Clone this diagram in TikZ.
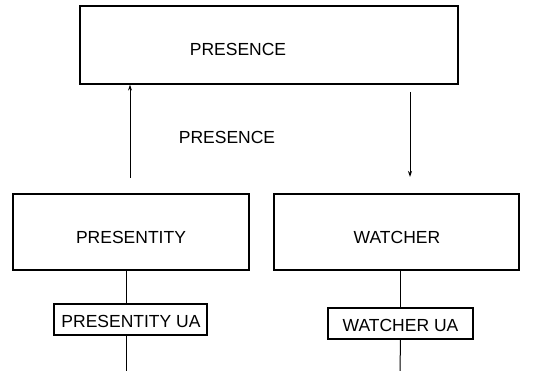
\documentclass[tikz,border=0pt]{standalone}
\usepackage{fontspec}
\setmainfont{Liberation Sans}
\usetikzlibrary{arrows.meta}
\begin{document}
\begin{tikzpicture}[x=1pt,y=-1pt,
  box/.style={draw,line width=1.2pt,inner sep=0pt},
  txt/.style={inner sep=0pt,font=\fontsize{17.5}{20}\selectfont},
  conn/.style={line width=1pt},
  arr/.style={line width=1pt,-{Stealth[length=6pt,width=4pt]}}]
\useasboundingbox (0,0) rectangle (542,371);
% boxes
\node[box,minimum width=378pt,minimum height=78pt] (presence) at (269,45) {};
\node[box,minimum width=236pt,minimum height=76pt] (presentity) at (131,232) {};
\node[box,minimum width=245pt,minimum height=76pt] (watcher) at (396.5,232) {};
\node[box,minimum width=153pt,minimum height=31pt] (pua) at (130.5,319.5) {};
\node[box,minimum width=145pt,minimum height=31pt] (wua) at (400.5,323.5) {};
% texts
\node[txt] (presencetxt) at (238,49) {PRESENCE};
\node[txt] (presentitytxt) at (131,237) {PRESENTITY};
\node[txt] (watchertxt) at (397,237) {WATCHER};
\node[txt] (puatxt) at (131,321.5) {PRESENTITY UA};
\node[txt] (wuatxt) at (400.5,325.5) {WATCHER UA};
\node[txt] (lbl) at (227,137) {PRESENCE};
% connectors
\coordinate (a1) at (130,178);
\coordinate (a2) at (410,92);
\coordinate (a3) at (410,177);
\coordinate (pl) at (126,371);
\coordinate (wb) at (400,371);
\draw[arr] (a1) -- (a1 |- presence.south);
\draw[arr] (a2) -- (a3);
\draw[conn] (presentity.south -| pl) -- (pua.north -| pl);
\draw[conn] (pua.south -| pl) -- (pl);
\draw[conn] (watcher.south -| wua.north) -- (wua.north);
\draw[conn] (wua.south) -- (wb);
\end{tikzpicture}
\end{document}
